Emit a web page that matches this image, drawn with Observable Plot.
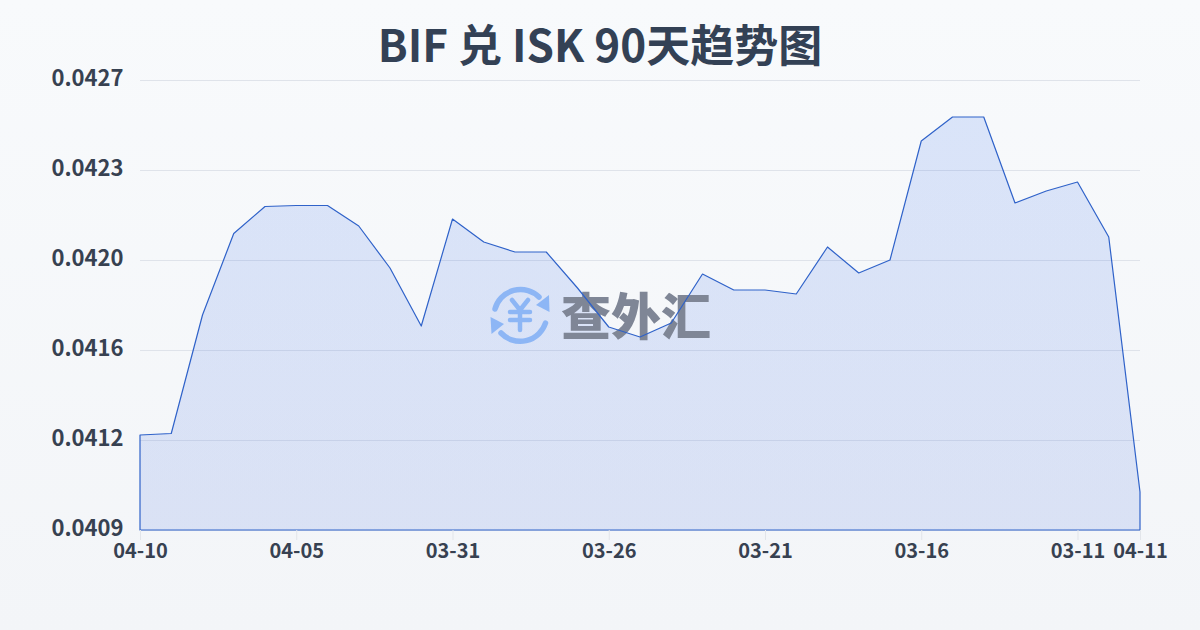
<!DOCTYPE html>
<html lang="zh">
<head>
<meta charset="utf-8">
<script src="https://cdn.jsdelivr.net/npm/d3@7"></script>
<script src="https://cdn.jsdelivr.net/npm/@observablehq/plot@0.6"></script>
<style>
html,body{margin:0;padding:0;width:1200px;height:630px;overflow:hidden;background:linear-gradient(180deg,#f8fafc 0%,#f3f5f8 100%);}
#title{height:64px;padding-top:13px;box-sizing:border-box;text-align:center;font:700 44px/60px "Noto Sans CJK SC",sans-serif;color:#334155;}
svg{display:block;background:transparent;overflow:visible;}
</style>
</head>
<body>
<div id="title">BIF 兑 ISK 90天趋势图</div>
<div id="chart"></div>
<script>
const dates = ["04-10","04-09","04-08","04-07","04-06","04-05","04-04","04-03","04-02","04-01","03-31","03-30","03-29","03-28","03-27","03-26","03-25","03-24","03-23","03-22","03-21","03-20","03-19","03-18","03-17","03-16","03-15","03-14","03-13","03-12","03-11","03-10","04-11"];
const rates = [0.04126,0.041266,0.04174,0.042066,0.042174,0.042178,0.042178,0.042096,0.041928,0.041696,0.042124,0.042032,0.041992,0.041992,0.041848,0.041692,0.041652,0.041708,0.041904,0.04184,0.04184,0.041824,0.042012,0.041908,0.04196,0.042436,0.042532,0.042532,0.042188,0.042236,0.042272,0.042052,0.041032];
const xTicks = ["04-10","04-05","03-31","03-26","03-21","03-16","03-11","04-11"];
const yTicks = [0.04088,0.04124,0.0416,0.04196,0.04232,0.04268];
const yDomain = [0.04088,0.04268];
const rows = dates.map((d,i)=>({d,v:rates[i]}));
const FONT = '"Noto Sans CJK SC",sans-serif';

function gradientDefs(){
  const s = d3.create("svg:defs");
  const g = s.append("linearGradient").attr("id","areaFill").attr("x1",0).attr("y1",0).attr("x2",0).attr("y2",1);
  g.append("stop").attr("offset","0%").attr("stop-color","#2563eb").attr("stop-opacity",0.14);
  g.append("stop").attr("offset","100%").attr("stop-color","#1d4ed8").attr("stop-opacity",0.12);
  return s.node();
}
function watermarkIcon(){
  const g = d3.create("svg:g").attr("transform","translate(520,251)");
  const c = "#8db6f5";
  const st = p=>g.append("path").attr("d",p).attr("fill","none").attr("stroke",c).attr("stroke-width",5.5).attr("stroke-linecap","round").attr("stroke-linejoin","round");
  st("M-25,-6 A26.5,26.5 0 0 1 19,-18");
  st("M25.5,8 A26.5,26.5 0 0 1 -19,18");
  g.append("path").attr("d","M29,-20 L29.5,-3 L16,-10 Z").attr("fill",c);
  g.append("path").attr("d","M-29.5,2 L-28.5,19 L-16,9 Z").attr("fill",c);
  g.append("path").attr("d","M-8,-15 L0,-5 L8,-15 M-10,-3 H10 M-10,5 H10 M0,-5 V15").attr("fill","none").attr("stroke",c).attr("stroke-width",4.5).attr("stroke-linecap","round").attr("stroke-linejoin","round");
  return g.node();
}
function watermarkText(){
  const t = d3.create("svg:text").attr("x",636).attr("y",249).attr("text-anchor","middle").attr("dominant-baseline","central")
    .attr("font-family",FONT).attr("font-weight",900).attr("font-size",50).attr("fill","#7f8696").text("查外汇");
  return t.node();
}

const chart = Plot.plot({
  width:1200, height:520,
  marginLeft:140, marginRight:60, marginTop:16, marginBottom:54,
  style:{background:"transparent",fontFamily:FONT,overflow:"visible"},
  x:{type:"point",domain:dates,padding:0,round:false,label:null},
  y:{domain:yDomain,label:null},
  marks:[
    gradientDefs,
    Plot.gridY(yTicks,{stroke:"#dfe3ea",strokeOpacity:1,strokeWidth:1}),
    Plot.areaY(rows,{x:"d",y1:()=>yDomain[0],y2:"v",fill:"url(#areaFill)"}),
    watermarkIcon,
    watermarkText,
    Plot.areaY(rows,{x:"d",y1:()=>yDomain[0],y2:"v",fill:"none",stroke:"#2f62c9",strokeWidth:1.2}),
    Plot.axisY({ticks:yTicks,tickSize:0,tickPadding:17,tickFormat:d=>d.toFixed(4),fontSize:22,fontWeight:700,fill:"#374151",stroke:"none",dy:-1.5}),
    Plot.axisX({ticks:xTicks,tickSize:10,tickPadding:3,fontSize:20,fontWeight:700,fill:"#374151",stroke:"#e2e5ea"})
  ]
});
document.getElementById("chart").appendChild(chart);
</script>
</body>
</html>
